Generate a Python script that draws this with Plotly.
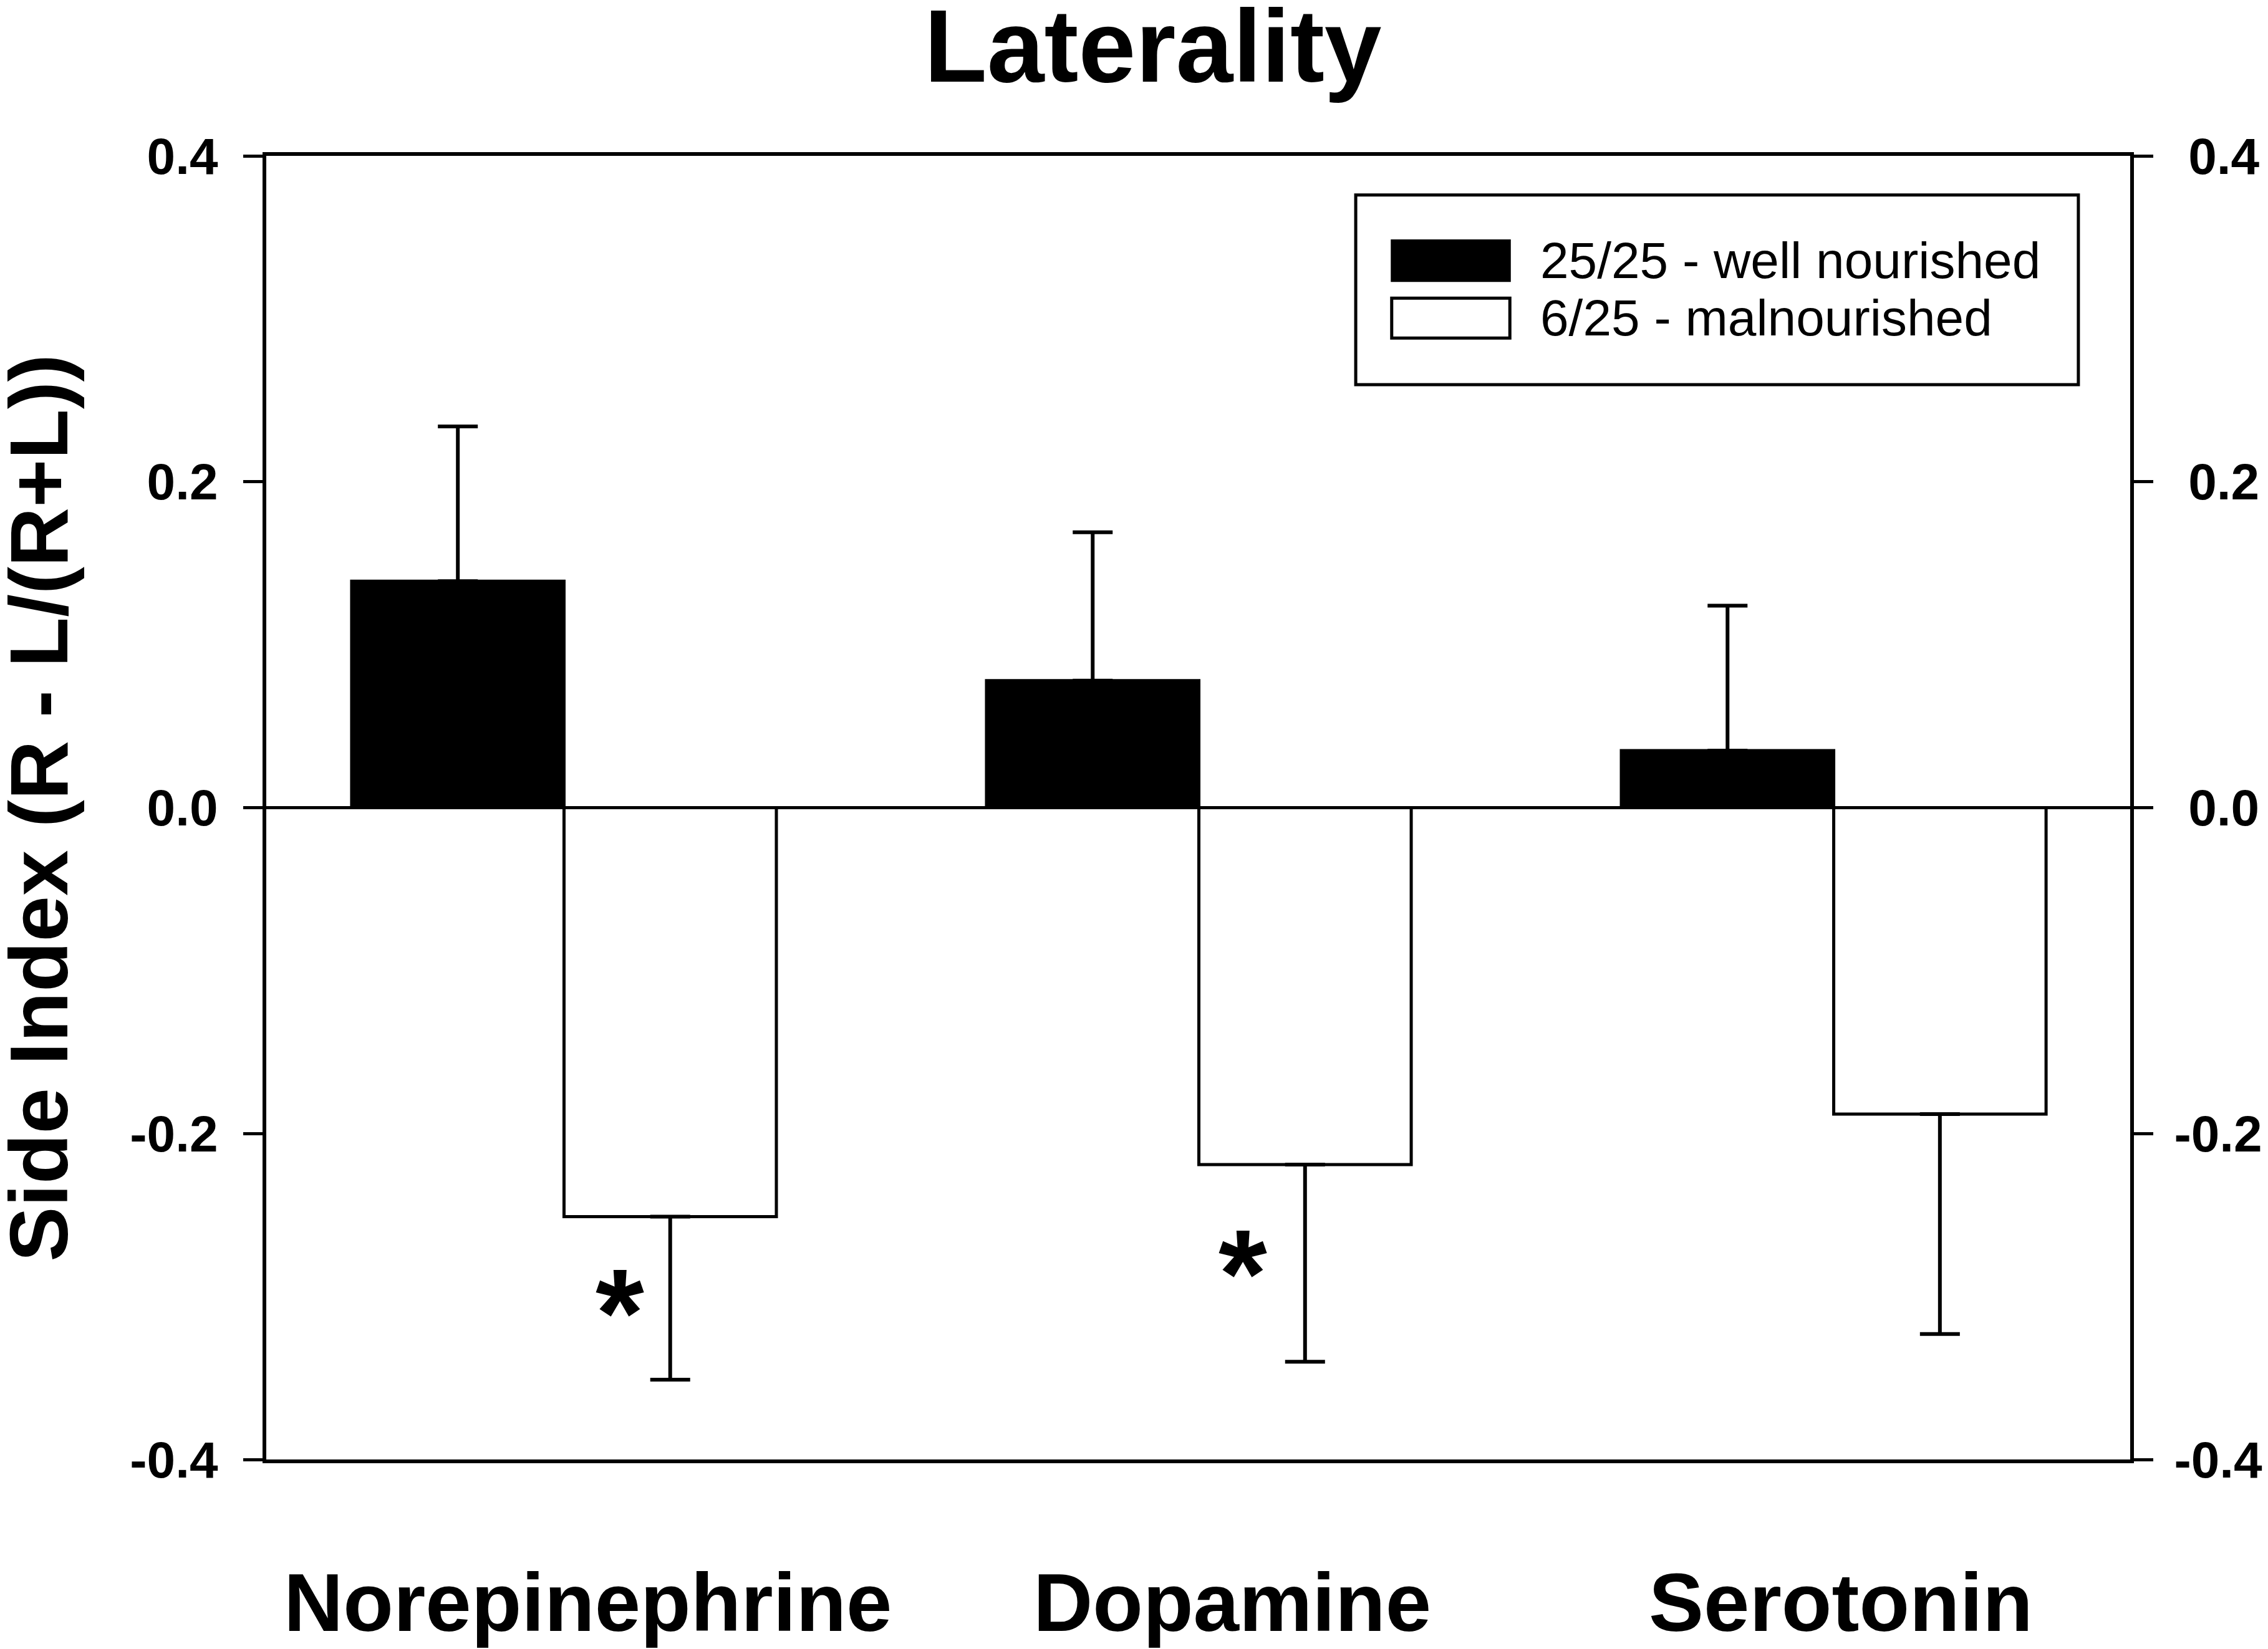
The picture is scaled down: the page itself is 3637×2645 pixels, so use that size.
import plotly.graph_objects as go

# values
categories = ["Norepinephrine", "Dopamine", "Serotonin"]
well_nourished = [0.139, 0.078, 0.035]
well_nourished_err = [0.095, 0.091, 0.089]
malnourished = [-0.251, -0.219, -0.188]
malnourished_err = [0.100, 0.121, 0.135]
y_tickvals = [-0.4, -0.2, 0.0, 0.2, 0.4]
y_ticktext = ["-0.4", "-0.2", "0.0", "0.2", "0.4"]
legend_labels = ["25/25 - well nourished", "6/25 - malnourished"]
star_x = [0.088, 1.069]
star_y = [-0.295, -0.271]

# the category names sit a little right of their bar groups in the original
label_shift = [0.037, 0.053, 0.011]

FAMILY = "Liberation Sans, Arial, sans-serif"
bold = lambda size: dict(family=FAMILY, size=size, color="black", weight="bold")
plain = lambda size: dict(family=FAMILY, size=size, color="black")

fig = go.Figure()
fig.add_trace(go.Bar(
    x=categories, y=well_nourished, name=legend_labels[0], showlegend=False,
    marker=dict(color="black", line=dict(color="black", width=5)),
    error_y=dict(type="data", symmetric=False, array=well_nourished_err,
                 arrayminus=[0] * len(categories), color="black", thickness=6, width=32),
))
fig.add_trace(go.Bar(
    x=categories, y=malnourished, name=legend_labels[1], showlegend=False,
    marker=dict(color="white", line=dict(color="black", width=5)),
    error_y=dict(type="data", symmetric=False, array=[0] * len(categories),
                 arrayminus=malnourished_err, color="black", thickness=6, width=32),
))
# invisible copy on the right-hand axis so that axis gets drawn
fig.add_trace(go.Scatter(x=categories, y=malnourished, yaxis="y2", mode="markers",
                         marker=dict(opacity=0), showlegend=False, hoverinfo="skip"))

axis_common = dict(range=[-0.4, 0.4], tickvals=y_tickvals,
                   ticks="outside", ticklen=31, tickwidth=5, tickcolor="black",
                   showline=True, linecolor="black", linewidth=6, showgrid=False,
                   tickfont=bold(82), fixedrange=True)

# right-hand labels are right aligned in the original: pad the positive ones
right_ticktext = [t if t.startswith("-") else "\u00a0" + t for t in y_ticktext]

fig.update_layout(
    width=3637, height=2645,
    margin=dict(l=419, r=229, t=242, b=312, autoexpand=False),
    paper_bgcolor="white", plot_bgcolor="white",
    barmode="group", bargap=0.331, bargroupgap=0,
    xaxis=dict(type="category", range=[-0.469, 2.467], showline=True, linecolor="black",
               linewidth=6, mirror=True, ticks="", showgrid=False, showticklabels=False),
    yaxis=dict(**axis_common, ticktext=y_ticktext, zeroline=True, zerolinecolor="black",
               zerolinewidth=5, ticklabelstandoff=24),
    yaxis2=dict(**axis_common, ticktext=right_ticktext, overlaying="y", side="right",
                anchor="x", zeroline=False, ticklabelstandoff=17),
)

# category names under the axis
for i, (cat, dx) in enumerate(zip(categories, label_shift)):
    fig.add_annotation(text=cat, x=i + dx, xref="x", y=-0.0736, yref="paper",
                       xanchor="center", yanchor="top", showarrow=False, font=bold(132))

# legend box drawn by hand so the swatches match the original size
fig.add_shape(type="rect", xref="paper", yref="paper", x0=0.5845, x1=0.9722, y0=0.8245, y1=0.9700,
              line=dict(color="black", width=5), fillcolor="white")
fig.add_shape(type="rect", xref="paper", yref="paper", x0=0.6038, x1=0.6672, y0=0.9040, y1=0.9352,
              line=dict(color="black", width=3), fillcolor="black")
fig.add_shape(type="rect", xref="paper", yref="paper", x0=0.6038, x1=0.6672, y0=0.8602, y1=0.8908,
              line=dict(color="black", width=5), fillcolor="white")
for lab, ly in zip(legend_labels, [0.9199, 0.8760]):
    fig.add_annotation(text=lab, xref="paper", yref="paper", x=0.6830, y=ly,
                       xanchor="left", yanchor="middle", showarrow=False, font=plain(82))

# title and y axis title
fig.add_annotation(text="Laterality", xref="paper", yref="paper", x=0.4759, y=1.0842,
                   xanchor="center", yanchor="middle", showarrow=False, font=bold(165))
fig.add_annotation(text="Side Index (R - L/(R+L))", xref="paper", yref="paper", x=-0.122, y=0.5,
                   xanchor="center", yanchor="middle", textangle=-90, showarrow=False,
                   font=bold(132))

# significance stars
for sx, sy in zip(star_x, star_y):
    fig.add_annotation(text="*", x=sx, y=sy, xref="x", yref="y", showarrow=False,
                       xanchor="center", yanchor="middle", yshift=-39, font=bold(200))

fig.write_html("out.html")
